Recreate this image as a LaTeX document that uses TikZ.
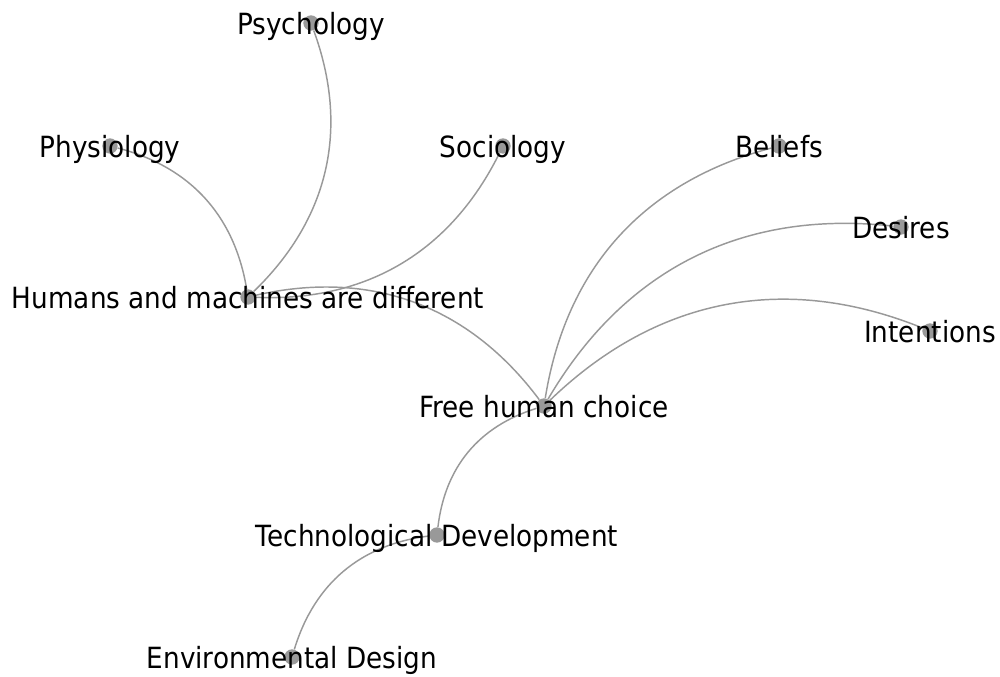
\documentclass[tikz,border=0pt]{standalone}
\usepackage{fontspec}
\setmainfont{DejaVu Sans}[FakeStretch=0.9]
\begin{document}
\begin{tikzpicture}[
  x=0.75pt, y=-0.75pt,
  dot/.style={circle,fill=black!40,draw=none,minimum size=11.5pt,inner sep=0pt},
  term/.style={font=\fontsize{21.9}{26}\selectfont,inner sep=0pt,anchor=center,
               text height=17.5pt,text depth=0pt},
  link/.style={draw=black!40,line width=1.1pt,bend right=33}
]
  \useasboundingbox (0,0) rectangle (1000,676);

  % graph nodes
  \node[dot] (psy)  at (311,23)  {};
  \node[dot] (phy)  at (110,146) {};
  \node[dot] (soc)  at (503,146) {};
  \node[dot] (hum)  at (248,297) {};
  \node[dot] (bel)  at (779,146) {};
  \node[dot] (des)  at (901,227) {};
  \node[dot] (int)  at (930,331) {};
  \node[dot] (free) at (544,406) {};
  \node[dot] (tech) at (437,535) {};
  \node[dot] (env)  at (292,657) {};

  % links
  \draw[link] (hum)  to (psy);
  \draw[link] (hum)  to (phy);
  \draw[link] (hum)  to (soc);
  \draw[link] (free) to (hum);
  \draw[link] (bel)  to (free);
  \draw[link] (des)  to (free);
  \draw[link] (int)  to (free);
  \draw[link] (free) to (tech);
  \draw[link] (tech) to (env);

  % labels
  \node[term] (psyL)  at (psy)  {Psychology};
  \node[term] (phyL)  at (phy)  {Physiology};
  \node[term] (socL)  at (soc)  {Sociology};
  \node[term] (humL)  at (hum)  {Humans and machines are different};
  \node[term] (belL)  at (bel)  {Beliefs};
  \node[term] (desL)  at (des)  {Desires};
  \node[term] (intL)  at (int)  {Intentions};
  \node[term] (freeL) at (free) {Free human choice};
  \node[term] (techL) at (tech) {Technological Development};
  \node[term] (envL)  at (env)  {Environmental Design};
\end{tikzpicture}
\end{document}
